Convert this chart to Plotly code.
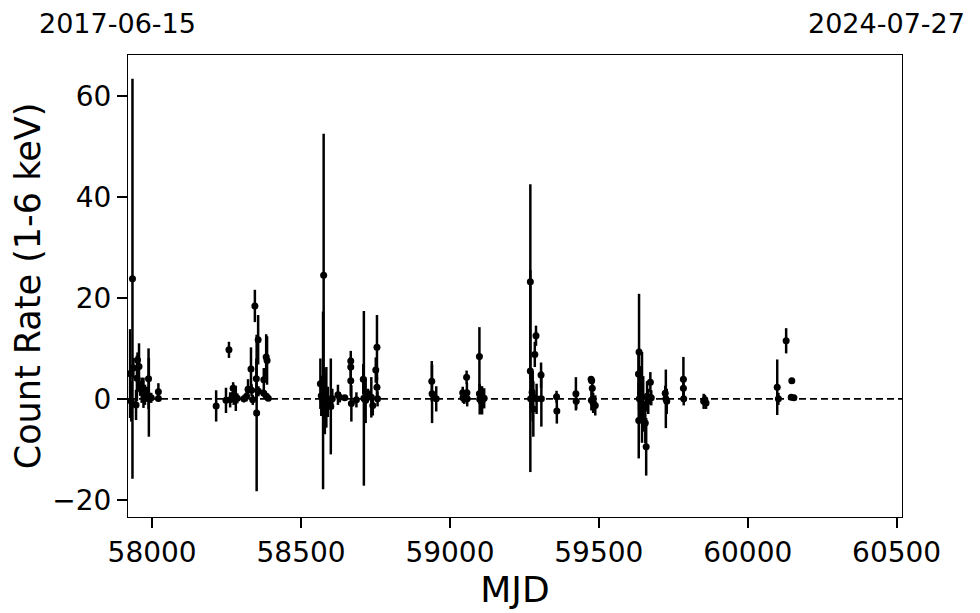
import plotly.graph_objects as go

# Observations: MJD, count rate (1-6 keV), 1-sigma error
mjd = [
    57926, 57930, 57934, 57937, 57946, 57949, 57951, 57956, 57960, 57965,
    57971, 57976, 57982, 57988, 57989, 57991, 57997, 58021, 58021,
    58215, 58248, 58258, 58262, 58272, 58274, 58281, 58286, 58308, 58317,
    58322, 58332, 58334, 58338, 58345, 58351, 58350, 58356, 58357, 58375,
    58383, 58386, 58375, 58384, 58390,
    58565, 58568, 58574, 58576, 58578, 58580, 58585, 58590, 58600, 58605,
    58624, 58630, 58647, 58667, 58667, 58667, 58669, 58686, 58709, 58711,
    58713, 58717, 58725, 58736, 58741, 58751, 58755, 58755, 58757,
    58939, 58940, 58954, 59043, 59044, 59048, 59056, 59057, 59058, 59099,
    59099, 59100, 59104, 59108, 59115,
    59270, 59270, 59271, 59276, 59278, 59280, 59285, 59289, 59291, 59306,
    59307, 59358, 59359, 59423, 59424, 59474, 59476, 59478, 59475, 59481,
    59488,
    59633, 59634, 59635, 59636, 59640, 59645, 59649, 59656, 59659, 59662,
    59666, 59673, 59676, 59723, 59725, 59728, 59784, 59784, 59785, 59852,
    59856, 59860,
    60099, 60103, 60129, 60148, 60146, 60155,
]
rate = [
    5.0, -0.5, 23.8, 6.1, -1.2, 4.1, 7.7, 6.4, 2.1, 1.7,
    1.2, 0.8, 0.9, 4.0, 0.3, 0.2, 0.2, 1.4, 0.05,
    -1.4, -0.3, 9.7, -0.2, 2.1, 0.8, 0.1, 0.1, 0.0, 0.5,
    1.9, 5.9, 1.7, -0.2, 18.4, -2.8, 4.0, 11.7, 1.5, 3.8,
    8.3, 7.6, 1.1, 0.5, 0.1,
    3.0, 0.6, -0.3, 24.5, 0.0, -1.0, 0.3, -0.6, -1.5, 0.0,
    0.8, 0.3, 0.2, 7.5, 6.3, 3.6, -0.9, -0.2, 3.9, 0.1,
    0.0, -0.3, 1.0, 0.3, -1.3, 5.7, 10.2, 2.3, 0.0,
    3.5, 1.0, 0.0, 1.2, 0.2, 0.0, 4.3, 1.2, 0.0, 8.4,
    1.0, -0.1, 0.0, -0.3, 0.1,
    23.2, 5.5, 0.0, 1.3, 0.5, -2.0, 8.8, 12.5, 0.0, 4.7,
    0.0, 0.4, -2.4, 1.0, -0.5, 3.9, 3.6, 2.1, -0.3, -0.8,
    -1.3,
    4.9, -4.3, 9.3, 0.0, 1.0, 0.3, -1.0, -4.8, -9.5, 0.5,
    -0.5, 3.3, 0.2, 1.1, 0.0, -0.5, 3.9, 2.1, 0.0, -0.5,
    -0.2, -0.8,
    2.3, 0.0, 11.5, 3.6, 0.3, 0.2,
]
err = [
    8.8, 4.0, 39.6, 2.0, 3.0, 4.5, 1.5, 4.6, 1.5, 2.5,
    3.0, 2.0, 1.5, 6.0, 7.8, 1.0, 1.0, 1.7, 0.5,
    3.1, 2.5, 1.6, 1.5, 1.2, 2.0, 2.5, 1.0, 0.7, 1.0,
    2.0, 4.3, 1.2, 1.0, 3.2, 15.5, 4.0, 4.9, 1.0, 2.3,
    4.5, 4.8, 0.8, 0.6, 0.5,
    5.0, 4.0, 17.6, 28.0, 6.0, 6.0, 6.0, 3.0, 9.5, 2.0,
    2.0, 1.0, 0.5, 2.0, 2.0, 3.0, 3.6, 1.5, 3.0, 17.3,
    4.0, 4.5, 1.0, 4.0, 2.0, 2.5, 6.4, 2.0, 1.5,
    4.0, 5.8, 2.5, 1.2, 1.0, 1.0, 1.3, 2.0, 1.5, 5.8,
    2.0, 3.0, 2.5, 2.8, 2.0,
    19.3, 20.0, 2.0, 4.0, 5.0, 5.5, 2.5, 2.0, 3.0, 2.5,
    5.5, 1.2, 2.5, 3.3, 1.5, 0.5, 0.5, 1.0, 2.0, 2.0,
    2.0,
    4.0, 7.5, 11.5, 3.0, 5.5, 9.0, 5.5, 4.0, 5.7, 3.0,
    2.5, 2.0, 1.5, 1.5, 5.8, 2.5, 4.4, 1.5, 1.3, 1.5,
    1.0, 1.2,
    5.5, 1.2, 2.5, 0.3, 0.5, 0.3,
]

x_range = [57919, 60518]
y_range = [-23.4, 68.1]
x_ticks = [58000, 58500, 59000, 59500, 60000, 60500]
y_ticks = [-20, 0, 20, 40, 60]
start_label = "2017-06-15"
end_label = "2024-07-27"

FONT = "DejaVu Sans"

fig = go.Figure()
fig.add_trace(go.Scatter(
    x=mjd, y=rate, mode="markers",
    marker=dict(color="black", size=7),
    error_y=dict(type="data", array=err, visible=True, color="black",
                 thickness=2.5, width=0),
    showlegend=False,
))
fig.add_hline(y=0, line=dict(color="black", width=1.8, dash="7px,4px"))

axis_common = dict(
    showline=True, linecolor="black", linewidth=1, mirror=True,
    ticks="outside", ticklen=10, tickwidth=2, tickcolor="black",
    showgrid=False, zeroline=False,
    tickfont=dict(family=FONT, size=28, color="black"),
)
fig.update_xaxes(range=x_range, tickvals=x_ticks, tickformat="d",
                 title=dict(text="MJD", font=dict(family=FONT, size=36, color="black"), standoff=2),
                 **axis_common)
fig.update_yaxes(range=y_range, tickvals=y_ticks, tickformat="d",
                 title=dict(text="Count Rate (1-6 keV)", font=dict(family=FONT, size=35, color="black"), standoff=6),
                 **axis_common)

fig.add_annotation(text=start_label, xref="paper", yref="paper", x=-0.013, y=1.068,
                   showarrow=False, xanchor="center", yanchor="middle",
                   font=dict(family=FONT, size=27, color="black"))
fig.add_annotation(text=end_label, xref="paper", yref="paper", x=0.980, y=1.068,
                   showarrow=False, xanchor="center", yanchor="middle",
                   font=dict(family=FONT, size=27, color="black"))

fig.update_layout(
    width=980, height=613,
    margin=dict(l=120, r=86, t=47, b=104, autoexpand=False),
    plot_bgcolor="white", paper_bgcolor="white",
    font=dict(family=FONT, color="black"),
)

fig.write_html("out.html")
